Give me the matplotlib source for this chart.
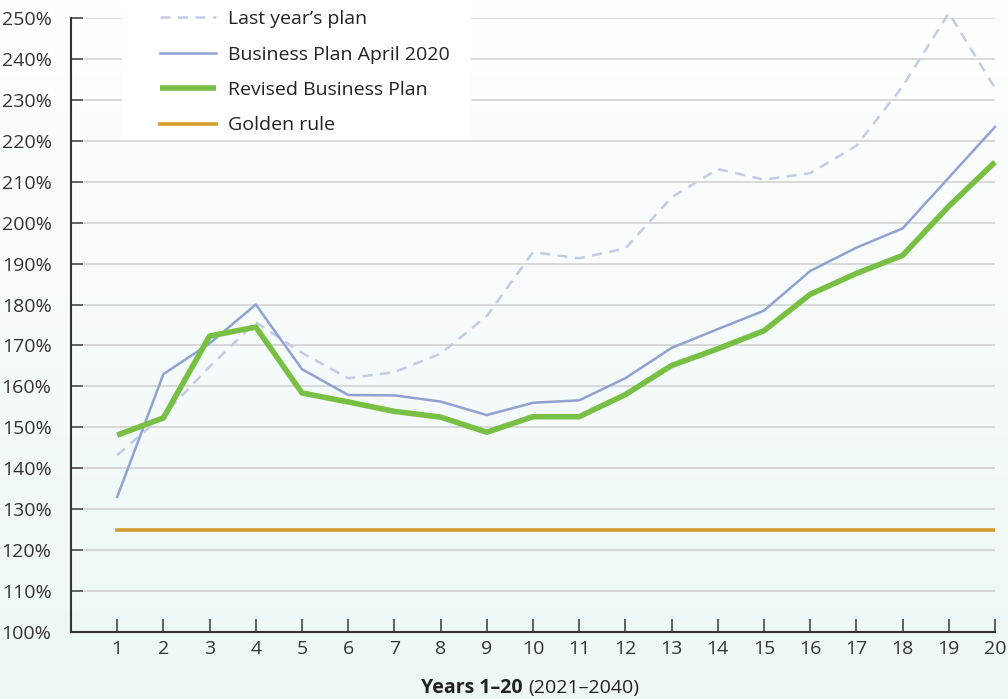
import matplotlib
matplotlib.use('Agg')
import matplotlib.pyplot as plt
import numpy as np
from matplotlib.patches import Rectangle

plt.rcParams['font.family'] = ['Open Sans', 'DejaVu Sans']

years = np.arange(1, 21)
last_year = [143.2, 153.0, 164.8, 175.7, 168.2, 162.0, 163.5, 168.0, 177.2, 192.8,
             191.3, 193.7, 206.2, 213.1, 210.5, 212.1, 218.8, 233.3, 251.2, 232.9]
plan_apr2020 = [133.0, 163.0, 170.5, 180.0, 164.2, 157.9, 157.8, 156.3, 153.0, 156.0,
                156.6, 162.0, 169.4, 174.0, 178.5, 188.2, 193.9, 198.6, 211.0, 223.4]
revised = [148.1, 152.3, 172.3, 174.5, 158.4, 156.2, 153.9, 152.5, 148.8, 152.6,
           152.6, 158.0, 165.1, 169.2, 173.6, 182.5, 187.6, 192.0, 204.0, 214.8]
golden_rule = [125] * 20
y_ticks = np.arange(100, 251, 10)

FS = 14

fig = plt.figure(figsize=(10.08, 6.99), dpi=100)

# soft white-to-mint background over the whole figure
bg = fig.add_axes([0, 0, 1, 1], zorder=-10)
grad = np.linspace(0, 1, 256).reshape(-1, 1)
top = np.array([1.0, 1.0, 1.0])
bottom = np.array([0xec, 0xf7, 0xf6]) / 255
img = top + (bottom - top) * grad[..., None]
bg.imshow(img, aspect='auto', extent=[0, 1, 0, 1])
bg.axis('off')

ax = fig.add_axes([71 / 1008, 67 / 699, (995 - 71) / 1008, (632 - 18) / 699])
ax.patch.set_alpha(0)
ax.set_xlim(0, 20)
ax.set_ylim(100, 250)

for v in y_ticks[1:]:
    ax.hlines(v, 0.28, 20, color='#cfcfcf', lw=1.1, zorder=1)

ax.plot(years, last_year, color='#c3cbe6', lw=1.8, ls=(0, (4, 3)), label="Last year’s plan",
        zorder=3, clip_on=False)
ax.plot(years, plan_apr2020, color='#8fa2d2', lw=1.8, label='Business Plan April 2020',
        zorder=4, clip_on=False)
ax.plot(years, revised, color='#78c043', lw=4, label='Revised Business Plan',
        zorder=5, clip_on=False, solid_capstyle='butt')
ax.plot(years, golden_rule, color='#d49c2c', lw=2.6, label='Golden rule', zorder=2)

for s in ['top', 'right']:
    ax.spines[s].set_visible(False)
for s in ['left', 'bottom']:
    ax.spines[s].set_color('#333333')
    ax.spines[s].set_linewidth(1.5)

ax.set_yticks(y_ticks)
ax.set_yticklabels([f'{v}%' for v in y_ticks])
ax.set_xticks(years)
ax.tick_params(axis='y', direction='in', length=8.5, width=1.3, color='#555555',
               labelsize=FS, labelcolor='#333333', pad=14)
ax.tick_params(axis='x', direction='in', length=9.5, width=1.3, color='#555555',
               labelsize=FS, labelcolor='#333333', pad=6)

# white panel behind the legend
fig.patches.append(Rectangle((122 / 1008, 1 - 137 / 699), 349 / 1008, 137 / 699,
                             transform=fig.transFigure, facecolor='white',
                             edgecolor='none', zorder=2))
leg = fig.legend(loc='upper left', bbox_to_anchor=(160 / 1008, 1 - 10 / 699),
                 frameon=False, fontsize=FS, handlelength=2.9, handletextpad=0.6,
                 labelspacing=0.9, borderpad=0, borderaxespad=0)
leg.set_zorder(3)
for t in leg.get_texts():
    t.set_color('#222222')

fig.text(523 / 1008, 0.016, 'Years 1–20', ha='right', va='center', fontsize=FS,
         fontweight='bold', color='#222222')
fig.text(528 / 1008, 0.016, '(2021–2040)', ha='left', va='center', fontsize=FS,
         color='#222222')

fig.savefig('out.png', dpi=100)
